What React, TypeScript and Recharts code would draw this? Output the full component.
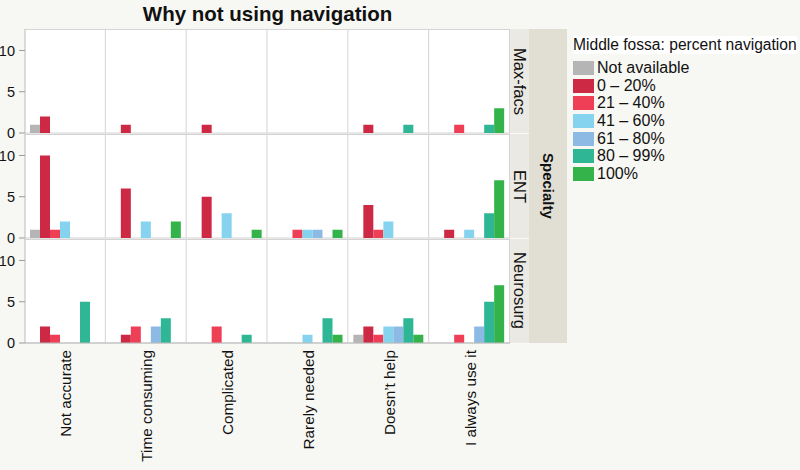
import React from 'react';
import { BarChart, Bar, XAxis, YAxis, CartesianGrid } from 'recharts';

const categories = ['Not accurate', 'Time consuming', 'Complicated', 'Rarely needed', 'Doesn’t help', 'I always use it'];
const seriesNames = ['Not available', '0 – 20%', '21 – 40%', '41 – 60%', '61 – 80%', '80 – 99%', '100%'];
const seriesColors = ['#b5b5b5', '#cd2945', '#ef3f57', '#85d3ef', '#8dbae4', '#2fb694', '#34b34a'];
const specialties = ['Max-facs', 'ENT', 'Neurosurg'];
const yTicks = [0, 5, 10];

// one row per series, one column per category
const maxFacsCounts = [
  [1, 0, 0, 0, 0, 0],
  [2, 1, 1, 0, 1, 0],
  [0, 0, 0, 0, 0, 1],
  [0, 0, 0, 0, 0, 0],
  [0, 0, 0, 0, 0, 0],
  [0, 0, 0, 0, 1, 1],
  [0, 0, 0, 0, 0, 3],
];
const entCounts = [
  [1, 0, 0, 0, 0, 0],
  [10, 6, 5, 0, 4, 1],
  [1, 0, 0, 1, 1, 0],
  [2, 2, 3, 1, 2, 1],
  [0, 0, 0, 1, 0, 0],
  [0, 0, 0, 0, 0, 3],
  [0, 2, 1, 1, 0, 7],
];
const neurosurgCounts = [
  [0, 0, 0, 0, 1, 0],
  [2, 1, 0, 0, 2, 0],
  [1, 2, 2, 0, 1, 1],
  [0, 0, 0, 1, 2, 0],
  [0, 2, 0, 0, 2, 2],
  [5, 3, 1, 3, 3, 5],
  [0, 0, 0, 1, 1, 7],
];
const panelCounts = [maxFacsCounts, entCounts, neurosurgCounts];

const FONT = '"Liberation Sans", Arial, sans-serif';
const PANEL_TOP = 29;
const PANEL_H = 104;
const PANEL_STEP = 105;
const PLOT_RIGHT = 510;

function toRows(counts: number[][]) {
  return categories.map((category, i) => {
    const row: Record<string, string | number> = { category };
    seriesNames.forEach((_, s) => {
      row[`s${s}`] = counts[s][i];
    });
    return row;
  });
}

function XTick(props: any) {
  const { x, y, payload } = props;
  return (
    <text
      transform={`translate(${x + 6},${y - 1}) rotate(-90)`}
      textAnchor="end"
      fontSize={15.3}
      fontFamily={FONT}
      fill="#111"
    >
      {payload.value}
    </text>
  );
}

function Panel({ counts, showX }: { counts: number[][]; showX: boolean }) {
  const data = toRows(counts);
  return (
    <BarChart
      width={PLOT_RIGHT}
      height={showX ? PANEL_H + 125 : PANEL_H}
      data={data}
      margin={{ top: 0, right: 0, bottom: 0, left: 0 }}
      barGap={0}
      barCategoryGap={5}
    >
      <CartesianGrid
        fill="#fff"
        stroke="#d4d4d4"
        horizontalCoordinatesGenerator={({ offset }: any) => [offset.top + 0.5, offset.top + offset.height]}
        verticalCoordinatesGenerator={({ offset }: any) =>
          categories.map((_, k) => offset.left + ((k + 1) * offset.width) / categories.length - 0.5)
        }
      />
      <XAxis
        dataKey="category"
        hide={!showX}
        height={125}
        interval={0}
        tickLine={false}
        axisLine={{ stroke: '#bbb' }}
        tick={<XTick />}
      />
      <YAxis
        domain={[0, 12.6]}
        ticks={yTicks}
        interval={0}
        allowDataOverflow
        width={25}
        tickSize={6}
        tickMargin={4}
        axisLine={{ stroke: '#bbb' }}
        tickLine={{ stroke: '#999' }}
        tick={{ fontSize: 14.5, fill: '#111', fontFamily: FONT }}
      />
      {seriesNames.map((name, s) => (
        <Bar key={name} dataKey={`s${s}`} name={name} fill={seriesColors[s]} isAnimationActive={false} />
      ))}
    </BarChart>
  );
}

export default function App() {
  return (
    <div
      style={{
        position: 'absolute',
        left: 0,
        top: 0,
        width: 800,
        height: 470,
        background: '#f7f7f3',
        fontFamily: FONT,
        overflow: 'hidden',
      }}
    >
      <style>{'.recharts-surface{overflow:visible}'}</style>
      <div
        style={{
          position: 'absolute',
          left: 25,
          width: 485,
          top: 2,
          textAlign: 'center',
          fontWeight: 'bold',
          fontSize: 20.5,
          color: '#111',
        }}
      >
        Why not using navigation
      </div>

      {panelCounts.map((counts, i) => (
        <div
          key={specialties[i]}
          style={{ position: 'absolute', left: 0, top: PANEL_TOP + i * PANEL_STEP, zIndex: panelCounts.length - i }}
        >
          <Panel counts={counts} showX={i === panelCounts.length - 1} />
        </div>
      ))}

      {specialties.map((name, i) => (
        <div
          key={name}
          style={{
            position: 'absolute',
            left: 510,
            top: PANEL_TOP + i * PANEL_STEP,
            width: 19,
            height: PANEL_H,
            background: '#ebe9e3',
            borderBottom: '1px solid #fafaf8',
            display: 'flex',
            alignItems: 'center',
            justifyContent: 'center',
          }}
        >
          <span style={{ writingMode: 'vertical-rl', fontSize: 16.5, color: '#111', whiteSpace: 'nowrap' }}>{name}</span>
        </div>
      ))}
      <div
        style={{
          position: 'absolute',
          left: 529,
          top: PANEL_TOP,
          width: 38,
          height: PANEL_STEP * 2 + PANEL_H,
          background: '#e1ded3',
          display: 'flex',
          alignItems: 'center',
          justifyContent: 'center',
        }}
      >
        <span style={{ writingMode: 'vertical-rl', fontSize: 15, fontWeight: 'bold', color: '#111' }}>Specialty</span>
      </div>

      <div style={{ position: 'absolute', left: 573, top: 36 }}>
        <div style={{ fontSize: 15.6, color: '#111', background: '#fff', marginBottom: 5, whiteSpace: 'nowrap' }}>
          Middle fossa: percent navigation
        </div>
        {seriesNames.map((name, s) => (
          <div key={name} style={{ display: 'flex', alignItems: 'center', height: 17.7 }}>
            <div style={{ width: 21, height: 14, background: seriesColors[s], marginRight: 3 }} />
            <span style={{ fontSize: 16, color: '#111', whiteSpace: 'nowrap' }}>{name}</span>
          </div>
        ))}
      </div>
    </div>
  );
}
